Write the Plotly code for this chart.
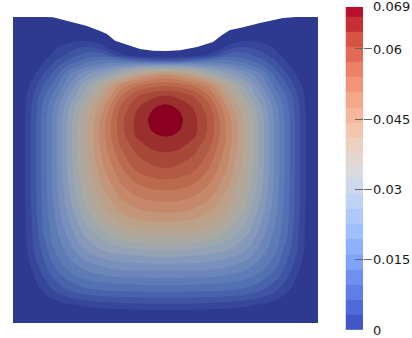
import numpy as np
import plotly.graph_objects as go

# field values in units of one contour step
# the picture is close to mirror symmetric, so only the left half and centre column are listed
level_step = 0.00318
x_nodes = [0, 10, 20, 30, 42, 56, 72, 90, 108, 124, 138, 145, 152.5, 160, 167, 181, 197, 215, 233, 249, 263, 275, 285, 295, 305]
y_nodes = [0, 18, 30, 38, 43, 48, 53, 58, 68, 78, 88, 93, 98, 103, 108, 113, 118, 133, 153, 173, 193, 213, 233, 253, 273, 288, 295, 306]
half_rows = [
    [0, 0, 0, 0, 0, 0, 0, 0, 0, 0, 0, 0, 0],
    [0, 0, 0, 0, 0, 0, 0, 0, 0, 0, 0, 0, 0],
    [0, 0, 0, .2, .8, 1.5, 2, 1.2, 0, 0, 0, 0, 0],
    [0, 0, 0, .45, 1.3, 2.3, 3.4, 3.5, 1.2, .2, 0, 0, 0],
    [0, 0, .15, .8, 1.9, 3.2, 4.2, 4.9, 4.7, 3.6, 2.8, 2.6, 2.5],
    [0, 0, .3, 1.1, 2.4, 4, 5.4, 6.4, 7, 7.5, 7.8, 7.9, 8],
    [0, 0, .5, 1.5, 3, 5, 6.7, 8.1, 9.5, 10.8, 11.6, 11.9, 12],
    [0, .1, .8, 2, 3.6, 6, 7.8, 9.4, 11.3, 13.4, 14.4, 14.85, 15],
    [0, .3, 1.4, 2.9, 4.5, 6.9, 9.6, 12.2, 15.2, 16.8, 17.5, 17.7, 17.8],
    [0, .45, 1.9, 3.7, 5.4, 8, 10.4, 13.5, 16.8, 18.8, 19.6, 19.85, 19.9],
    [0, .55, 2.2, 4.1, 6.2, 8.8, 11.6, 14.6, 18, 19.8, 20.5, 20.9, 21.1],
    [0, .55, 2.3, 4.2, 6.35, 9, 12, 15, 18.3, 20, 20.9, 21.3, 21.45],
    [0, .6, 2.35, 4.3, 6.5, 9.2, 12.3, 15.3, 18.6, 20.2, 21.1, 21.55, 21.65],
    [0, .6, 2.4, 4.4, 6.6, 9.4, 12.5, 15.5, 18.7, 20.3, 21.2, 21.6, 21.75],
    [0, .6, 2.4, 4.4, 6.6, 9.4, 12.6, 15.6, 18.7, 20.35, 21.1, 21.55, 21.7],
    [0, .6, 2.4, 4.4, 6.6, 9.4, 12.6, 15.65, 18.7, 20.35, 21, 21.4, 21.5],
    [0, .6, 2.4, 4.4, 6.6, 9.4, 12.6, 15.7, 18.6, 20.2, 20.7, 21, 21.1],
    [0, .6, 2.4, 4.4, 6.6, 9.4, 12.5, 15.4, 17.9, 19.3, 19.95, 20.1, 20.15],
    [0, .6, 2.4, 4.4, 6.6, 9.3, 12.2, 14.8, 16.8, 18.1, 18.6, 18.8, 18.85],
    [0, .6, 2.4, 4.3, 6.5, 9, 11.6, 13.9, 15.6, 16.5, 16.9, 17, 17],
    [0, .55, 2.3, 4.2, 6.2, 8.4, 10.7, 12.9, 14.2, 14.9, 15.2, 15.3, 15.3],
    [0, .5, 2.1, 4, 5.7, 7.6, 9.5, 11, 12.3, 12.9, 13.05, 13.1, 13.1],
    [0, .4, 1.9, 3.3, 5.1, 6.5, 8, 9, 9.5, 9.8, 9.95, 10, 10],
    [0, .25, 1.1, 2.45, 3.9, 5.1, 6, 6.6, 7, 7.05, 7.1, 7.1, 7.1],
    [0, .05, .5, 1.1, 2.15, 3.05, 3.75, 4.05, 4.2, 4.25, 4.3, 4.3, 4.3],
    [0, 0, 0, .1, .4, .85, 1.2, 1.5, 1.65, 1.75, 1.8, 1.8, 1.8],
    [0, 0, 0, 0, 0, .15, .35, .5, .6, .65, .7, .7, .7],
    [0, 0, 0, 0, 0, 0, 0, 0, 0, 0, 0, 0, 0],
]

# deformed top surface, everything above it is blanked
surface_x = [28, 32, 40, 54, 74, 87, 94, 102, 114, 127, 140, 153, 167, 184, 200, 209, 217, 227, 247, 270, 283, 287]
surface_y = [-3, 0, 0.3, 4, 9, 14, 17, 23.7, 28, 32, 33.7, 34, 33.3, 30, 25, 18, 13, 11, 6, 1, 0, -3]

# muted band colours in the plot, low to high
band_colors = ["#2e3a8f", "#36469a", "#3f55a3", "#4862ab", "#5370b2", "#5f7bb6", "#6d86ba", "#7a90bc",
               "#8799ba", "#93a2b5", "#9ea7ac", "#aaa9a2", "#b4a797", "#bca18a", "#c3967a", "#c5886a",
               "#c27a5c", "#bb6a4e", "#b25a43", "#a84838", "#99302d", "#8b0020"]

# colour bar
bar_edges = [0, 0.00327, 0.00647, 0.00967, 0.01292, 0.01616, 0.01943, 0.02263, 0.02584, 0.02904, 0.03224, 0.03502,
             0.0378, 0.04111, 0.04433, 0.04753, 0.05076, 0.05396, 0.05716, 0.06037, 0.06357, 0.06677, 0.069]
bar_stops = ["#3b4cc0", "#5977e3", "#7b9ff9", "#9ebeff", "#c0d4f5", "#dddcdc", "#f2cbb7", "#f7ac8e", "#ee8468", "#d65244", "#b40426"]
bar_ticks = [0.015, 0.03, 0.045, 0.06]
label_vals = [0, 0.015, 0.03, 0.045, 0.06, 0.069]
label_text = ["0", "0.015", "0.03", "0.045", "0.06", "0.069"]

W, H = 412, 338
z = np.array([row + row[-2::-1] for row in half_rows]) * level_step
bar_mid = [[(a + b) / 2] for a, b in zip(bar_edges[:-1], bar_edges[1:])]

fig = go.Figure()
fig.add_trace(go.Contour(
    x=x_nodes, y=y_nodes, z=z,
    autocontour=False,
    contours=dict(start=level_step, end=21 * level_step, size=level_step, coloring="fill", showlines=False),
    colorscale=[[i / 21, c] for i, c in enumerate(band_colors)],
    line=dict(width=0, smoothing=1.2),
    showscale=False, hoverinfo="skip",
))
fig.add_trace(go.Scatter(
    x=surface_x, y=surface_y, mode="lines", fill="toself", fillcolor="white",
    line=dict(width=0, color="white"), hoverinfo="skip", showlegend=False,
))
fig.add_trace(go.Heatmap(
    x=[0, 1], y=bar_edges, z=bar_mid, xaxis="x2", yaxis="y2", zmin=0, zmax=0.069,
    colorscale=[[i / 10, c] for i, c in enumerate(bar_stops)], showscale=False, hoverinfo="skip",
))
# empty traces so the overlaid bar axes get drawn
fig.add_trace(go.Scatter(x=[None], y=[None], xaxis="x2", yaxis="y3", showlegend=False))
fig.add_trace(go.Scatter(x=[None], y=[None], xaxis="x2", yaxis="y4", showlegend=False))

bar_domain = [(H - 330) / H, (H - 6.8) / H]
bar_range = [0, 0.069]
fig.update_layout(
    width=W, height=H, margin=dict(l=0, r=0, t=0, b=0, autoexpand=False),
    paper_bgcolor="white", plot_bgcolor="white", showlegend=False,
    font=dict(family="DejaVu Sans", size=13, color="#1a1a1a"),
    xaxis=dict(domain=[13 / W, 318 / W], range=[0, 305], visible=False),
    yaxis=dict(domain=[(H - 323) / H, (H - 17) / H], range=[306, 0], visible=False),
    xaxis2=dict(domain=[345.5 / W, 363 / W], range=[0, 1], visible=False, anchor="y2"),
    yaxis2=dict(domain=bar_domain, range=bar_range, anchor="x2", side="right", showgrid=False, zeroline=False,
                showline=False, tickmode="array", tickvals=bar_ticks, ticks="outside", ticklen=8,
                tickcolor="#666666", tickwidth=1, showticklabels=False),
    yaxis3=dict(domain=bar_domain, range=bar_range, anchor="x2", overlaying="y2", side="right", showgrid=False,
                zeroline=False, showline=False, tickmode="array", tickvals=bar_ticks, ticks="inside", ticklen=8,
                tickcolor="#666666", tickwidth=1, showticklabels=False),
    yaxis4=dict(domain=bar_domain, range=bar_range, anchor="x2", overlaying="y2", side="right", showgrid=False,
                zeroline=False, showline=False, tickmode="array", tickvals=label_vals, ticktext=label_text,
                ticks="", ticklabelstandoff=9, ticklabeloverflow="allow"),
)

# the page's default body margin would push the figure off the window
fig.write_html("out.html", config=dict(displayModeBar=False), post_script="document.body.style.margin = '0';")
